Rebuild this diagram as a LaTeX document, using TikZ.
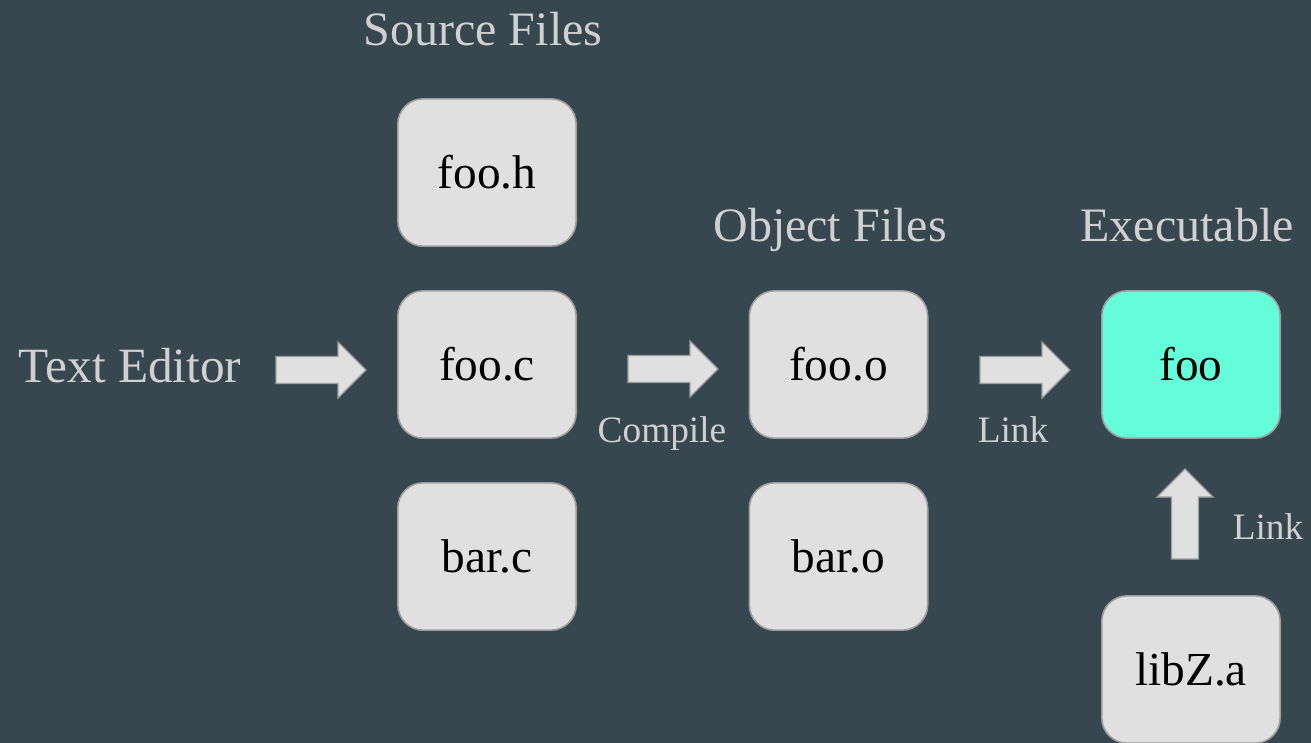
\documentclass[tikz,border=0pt]{standalone}
\usepackage{fontspec}
\setmainfont{Liberation Serif}
\definecolor{bg}{HTML}{37474F}
\definecolor{boxfill}{HTML}{E0E0E0}
\definecolor{boxline}{HTML}{9E9E9E}
\definecolor{exefill}{HTML}{64FFDA}
\definecolor{labelc}{HTML}{D0D0D0}
\tikzset{
  file/.style={draw=boxline, line width=1.2pt, fill=boxfill, rounded corners=19pt,
    minimum width=133.8pt, minimum height=110.5pt, inner sep=0pt, text=black,
    font=\fontsize{35.5}{40}\selectfont},
  exe/.style={file, fill=exefill},
  heading/.style={text=labelc, anchor=base, inner sep=0pt, font=\fontsize{36}{40}\selectfont},
  steplabel/.style={text=labelc, anchor=base, inner sep=0pt, font=\fontsize{28}{32}\selectfont},
  arrowbody/.style={draw=boxline, line width=1pt, fill=boxfill, line join=miter},
  blockarrow/.pic={
    \draw[arrowbody] (-90,-13.5) -- (-28,-13.5) -- (-28,-28) -- (0,0)
      -- (-28,28) -- (-28,13.5) -- (-90,13.5) -- cycle;
  }
}
\begin{document}
\begin{tikzpicture}[x=0.75pt, y=-0.75pt]
  \fill[bg] (0,0) rectangle (1311,743);
  \useasboundingbox (0,0) rectangle (1311,743);

  % column headings
  \node[heading] (hsrc) at (483,45) {Source Files};
  \node[heading] (hobj) at (830,241) {Object Files};
  \node[heading] (hexe) at (1187,241) {Executable};

  % files
  \node[file] (fooh) at (487,172.5) {foo.h};
  \node[file] (fooc) at (487,364.5) {foo.c};
  \node[file] (barc) at (487,556.5) {bar.c};
  \node[file] (fooo) at (838.5,364.5) {foo.o};
  \node[file] (baro) at (838.5,556.5) {bar.o};
  \node[exe]  (foo)  at (1191,364.5) {foo};
  \node[file] (libz) at (1191,669.5) {libZ.a};

  % editor
  \node[text=labelc, anchor=base, inner sep=0pt, font=\fontsize{37}{40}\selectfont]
    (editor) at (130,382) {Text Editor};

  % build steps
  \pic at (366,370) {blockarrow};
  \pic at (718,369) {blockarrow};
  \node[steplabel] (compile) at (662,442) {Compile};
  \pic at (1070,370) {blockarrow};
  \node[steplabel] (link1) at (1013,442) {Link};
  \pic[rotate=90] at (1185,469) {blockarrow};
  \node[steplabel] (link2) at (1268,539) {Link};
\end{tikzpicture}
\end{document}
